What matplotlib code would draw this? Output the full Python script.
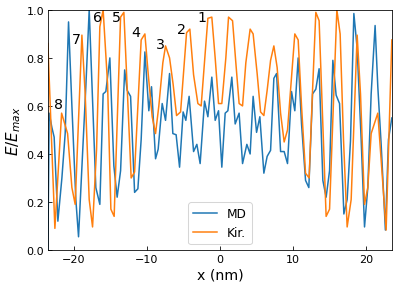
#!/usr/bin/env python3
"""
plot.py — normalised field profile, MD vs Kirchhoff
"""

import matplotlib
matplotlib.use("Agg")
import matplotlib.pyplot as plt


# ============================================================
# Data
# ============================================================
md_x = [-23.56, -23.38, -23.01, -22.70, -22.19, -21.64, -21.19, -20.73, -20.27, -19.73,
        -19.36, -18.81, -18.36, -17.90, -17.44, -16.99, -16.44, -15.99, -15.62, -15.07,
        -14.52, -14.07, -13.60, -13.04, -12.70, -12.23, -11.68, -11.23, -10.78, -10.27,
        -9.73, -9.36, -8.81, -8.45, -7.90, -7.44, -6.89, -6.44, -5.99, -5.52,
        -5.03, -4.66, -4.21, -3.60, -3.15, -2.70, -2.10, -1.64, -1.10, -0.64,
        -0.18, 0.27, 0.73, 1.10, 1.64, 2.10, 2.64, 3.11, 3.70, 4.15,
        4.56, 5.03, 5.48, 6.03, 6.48, 6.95, 7.40, 7.77, 8.32, 8.81,
        9.27, 9.82, 10.27, 10.73, 11.19, 11.74, 12.19, 12.70, 13.15, 13.60,
        14.11, 14.56, 15.03, 15.48, 15.93, 16.40, 16.99, 17.44, 17.90, 18.36,
        18.81, 19.36, 19.82, 20.27, 20.73, 21.27, 21.64, 22.10, 22.68, 23.10,
        23.56]
md_y = [0.00, 0.57, 0.51, 0.47, 0.12, 0.30, 0.485, 0.95, 0.60, 0.21,
        0.055, 0.40, 0.68, 1.00, 0.625, 0.26, 0.19, 0.65, 0.66, 0.80,
        0.35, 0.22, 0.33, 0.75, 0.665, 0.64, 0.24, 0.255, 0.46, 0.825,
        0.58, 0.68, 0.38, 0.42, 0.61, 0.54, 0.735, 0.485, 0.48, 0.345,
        0.575, 0.54, 0.64, 0.41, 0.44, 0.36, 0.62, 0.555, 0.72, 0.54,
        0.58, 0.345, 0.57, 0.58, 0.72, 0.525, 0.57, 0.36, 0.44, 0.40,
        0.64, 0.49, 0.555, 0.32, 0.39, 0.415, 0.715, 0.735, 0.41, 0.41,
        0.36, 0.66, 0.58, 0.80, 0.525, 0.29, 0.26, 0.65, 0.67, 0.755,
        0.29, 0.22, 0.33, 0.79, 0.645, 0.61, 0.15, 0.21, 0.455, 0.985,
        0.84, 0.46, 0.096, 0.26, 0.65, 0.935, 0.68, 0.44, 0.083, 0.46,
        0.55]

kir_x = [-23.56, -22.60, -21.68, -20.86, -20.27, -19.82, -18.90, -18.45, -17.90, -17.44,
         -16.89, -16.44, -15.99, -15.38, -14.93, -14.48, -13.60, -13.15, -12.15, -11.68,
         -10.78, -10.27, -9.82, -9.27, -8.81, -8.36, -7.81, -7.44, -6.89, -6.40,
         -5.93, -5.38, -4.56, -4.11, -3.60, -3.01, -2.56, -2.01, -1.64, -1.10,
         -0.64, -0.18, 0.27, 0.82, 1.19, 1.74, 2.19, 2.64, 3.11, 3.56,
         4.15, 4.56, 5.11, 5.58, 6.03, 6.48, 6.95, 7.40, 7.85, 8.32,
         8.81, 9.27, 9.82, 10.27, 10.73, 11.19, 11.74, 12.23, 12.70, 13.15,
         13.60, 14.56, 15.03, 16.03, 16.48, 16.94, 17.44, 17.99, 18.81, 19.27,
         19.82, 20.27, 20.73, 21.64, 22.78, 23.56]
kir_y = [0.86, 0.09, 0.57, 0.485, 0.26, 0.19, 0.895, 0.65, 0.21, 0.096,
         0.42, 0.93, 1.00, 0.69, 0.17, 0.14, 0.97, 0.99, 0.30, 0.325,
         0.875, 0.90, 0.735, 0.555, 0.485, 0.60, 0.78, 0.85, 0.80, 0.69,
         0.56, 0.575, 0.905, 0.92, 0.73, 0.61, 0.60, 0.82, 0.965, 0.97,
         0.80, 0.61, 0.61, 0.80, 0.97, 0.955, 0.78, 0.61, 0.60, 0.78,
         0.92, 0.90, 0.735, 0.575, 0.56, 0.665, 0.79, 0.85, 0.76, 0.57,
         0.45, 0.50, 0.72, 0.90, 0.875, 0.60, 0.32, 0.30, 0.665, 0.99,
         0.955, 0.14, 0.17, 1.00, 0.90, 0.46, 0.096, 0.21, 0.895, 0.65,
         0.19, 0.26, 0.485, 0.57, 0.083, 0.875]

# peak labels 1..8
peak_labels = ["1", "2", "3", "4", "5", "6", "7", "8"]
peak_x = [-2.5, -5.2, -8.1, -11.5, -14.1, -16.8, -19.6, -22.1]
peak_y = [0.97, 0.92, 0.86, 0.91, 0.97, 0.97, 0.88, 0.61]


# ============================================================
# Plot
# ============================================================
fig = plt.figure(figsize=(399 / 72.5, 291 / 72.5), dpi=72.5)
ax = fig.add_axes([0.120, 0.1375, 0.862, 0.825])

ax.plot(md_x, md_y, color="tab:blue", linewidth=1.5, label="MD")
ax.plot(kir_x, kir_y, color="tab:orange", linewidth=1.5, label="Kir.")

for lab, px, py in zip(peak_labels, peak_x, peak_y):
    ax.text(px, py, lab, fontsize=14, ha="center", va="center")

ax.set_xlim(-23.56, 23.56)
ax.set_ylim(0, 1)
ax.set_xticks([-20, -10, 0, 10, 20])
ax.set_yticks([0.0, 0.2, 0.4, 0.6, 0.8, 1.0])
ax.tick_params(direction="in", labelsize=11)
ax.set_xlabel("x (nm)", fontsize=14)
ax.set_ylabel("$E/E_{max}$", fontsize=15)
ax.legend(loc="lower center", fontsize=12)

fig.savefig("out.png", dpi=72.5)
plt.close(fig)
